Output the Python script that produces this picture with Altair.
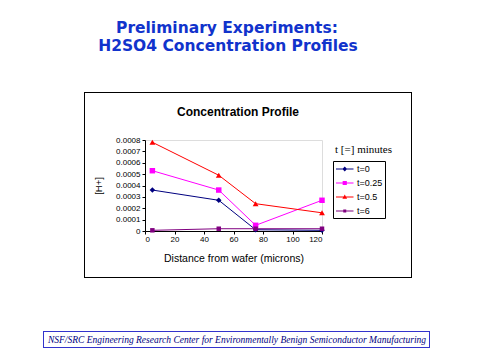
import altair as alt
import pandas as pd

distance = [5, 50, 75, 120]
series_names = ["t=0", "t=0.25", "t=0.5", "t=6"]
t0 = [0.00036, 0.00027, 0.000011, 0.000006]
t025 = [0.00053, 0.00036, 0.00005, 0.00027]
t05 = [0.00078, 0.00049, 0.00024, 0.00016]
t6 = [0.000006, 0.00002, 0.00002, 0.00002]
colors = ["#000080", "#FF00FF", "#FF0000", "#800080"]
shapes = ["diamond", "square", "triangle-up", "square"]
point_sizes = [30, 30, 34, 20]
x_ticks = [0, 20, 40, 60, 80, 100, 120]
y_ticks = [0, 0.0001, 0.0002, 0.0003, 0.0004, 0.0005, 0.0006, 0.0007, 0.0008]

# legend symbols: a short line with the marker on it (custom SVG paths)
LINE = "M-1,-0.09H2.5V0.09H-1Z"
legend_paths = [
    LINE + "M0.75,-0.48L1.22,0L0.75,0.48L0.28,0Z",
    LINE + "M0.33,-0.42H1.17V0.42H0.33Z",
    LINE + "M0.75,-0.48L1.22,0.36H0.28Z",
    LINE + "M0.45,-0.32H1.05V0.32H0.45Z",
]

rows = []
for name, vals in zip(series_names, [t0, t025, t05, t6]):
    for d, v in zip(distance, vals):
        rows.append({"series": name, "distance": d, "conc": v})
df = pd.DataFrame(rows)

FONT = "Liberation Sans"
PW, PH = 177, 91

x = alt.X("distance:Q", scale=alt.Scale(domain=[0, 120], nice=False),
          axis=alt.Axis(values=x_ticks, title="Distance from wafer (microns)",
                        grid=False, domainColor="black", tickColor="black", tickSize=3,
                        labelFont=FONT, labelFontSize=8, labelColor="black",
                        titleFont=FONT, titleFontSize=10.5, titleFontWeight="normal",
                        titleColor="black", titlePadding=10, labelPadding=1))
y = alt.Y("conc:Q", scale=alt.Scale(domain=[0, 0.0008], nice=False),
          axis=alt.Axis(values=y_ticks, format=".4~f", title="[H+]", grid=False,
                        domainColor="black", tickColor="black", tickSize=3,
                        labelFont=FONT, labelFontSize=8, labelColor="black",
                        titleFont=FONT, titleFontSize=9.5, titleFontWeight="normal",
                        titleColor="black", titlePadding=12, labelPadding=2))

layers = []
for name, col, shp, sz in zip(series_names, colors, shapes, point_sizes):
    base = alt.Chart(df).transform_filter(alt.datum.series == name)
    layers.append(base.mark_line(strokeWidth=1, color=col).encode(x=x, y=y))
    layers.append(base.mark_point(filled=True, size=sz, opacity=1, color=col, shape=shp).encode(x=x, y=y))

legend_layer = alt.Chart(df).transform_filter("false").mark_point(
    filled=True, size=144, opacity=1).encode(
    x=x, y=y,
    color=alt.Color("series:N", scale=alt.Scale(domain=series_names, range=colors),
                    legend=alt.Legend(title=None, orient="none", legendX=188, legendY=21,
                                      strokeColor="black", fillColor="white", padding=2,
                                      labelFont=FONT, labelFontSize=9, labelColor="black",
                                      labelOffset=10, rowPadding=3)),
    shape=alt.Shape("series:N", scale=alt.Scale(domain=series_names, range=legend_paths)),
)

box = alt.Chart(df).mark_rect(fillOpacity=0, stroke="black", strokeWidth=1).encode(
    x=alt.value(-60.5), x2=alt.value(266.5), y=alt.value(-47.5), y2=alt.value(137.5))
footer_box = alt.Chart(df).mark_rect(fillOpacity=0, stroke="#3333CC", strokeWidth=1).encode(
    x=alt.value(-101.5), x2=alt.value(284.5), y=alt.value(191.5), y2=alt.value(207.5))

def txt(s, xv, yv, size, color="black", weight="normal", style="normal", font=FONT):
    return alt.Chart(pd.DataFrame({"t": [s]})).mark_text(
        fontSize=size, fontWeight=weight, fontStyle=style, font=font, color=color,
        align="center", baseline="middle").encode(x=alt.value(xv), y=alt.value(yv), text="t:N")

texts = [
    txt("Preliminary Experiments:", 82, -112, 15.5, "#1133CC", "bold", "normal", "DejaVu Sans"),
    txt("H2SO4 Concentration Profiles", 83, -94, 15.5, "#1133CC", "bold", "normal", "DejaVu Sans"),
    txt("Concentration Profile", 93, -28, 12, "black", "bold"),
    txt("t [=] minutes", 218.5, 10, 11, "black", "normal", "normal", "Liberation Serif"),
    txt("NSF/SRC Engineering Research Center for Environmentally Benign Semiconductor Manufacturing",
        92, 200, 9.5, "#000080", "normal", "italic", "Liberation Serif"),
]

chart = alt.layer(box, footer_box, *layers, legend_layer, *texts).properties(
    width=PW, height=PH,
    autosize=alt.AutoSizeParams(type="none"),
    padding={"left": 137, "top": 132, "right": 150, "bottom": 121},
).configure_view(fill="#DDDDDD", stroke="#808080", strokeWidth=1).configure(background="white")

chart.save("out.html", embed_options={"renderer": "svg", "actions": False})
